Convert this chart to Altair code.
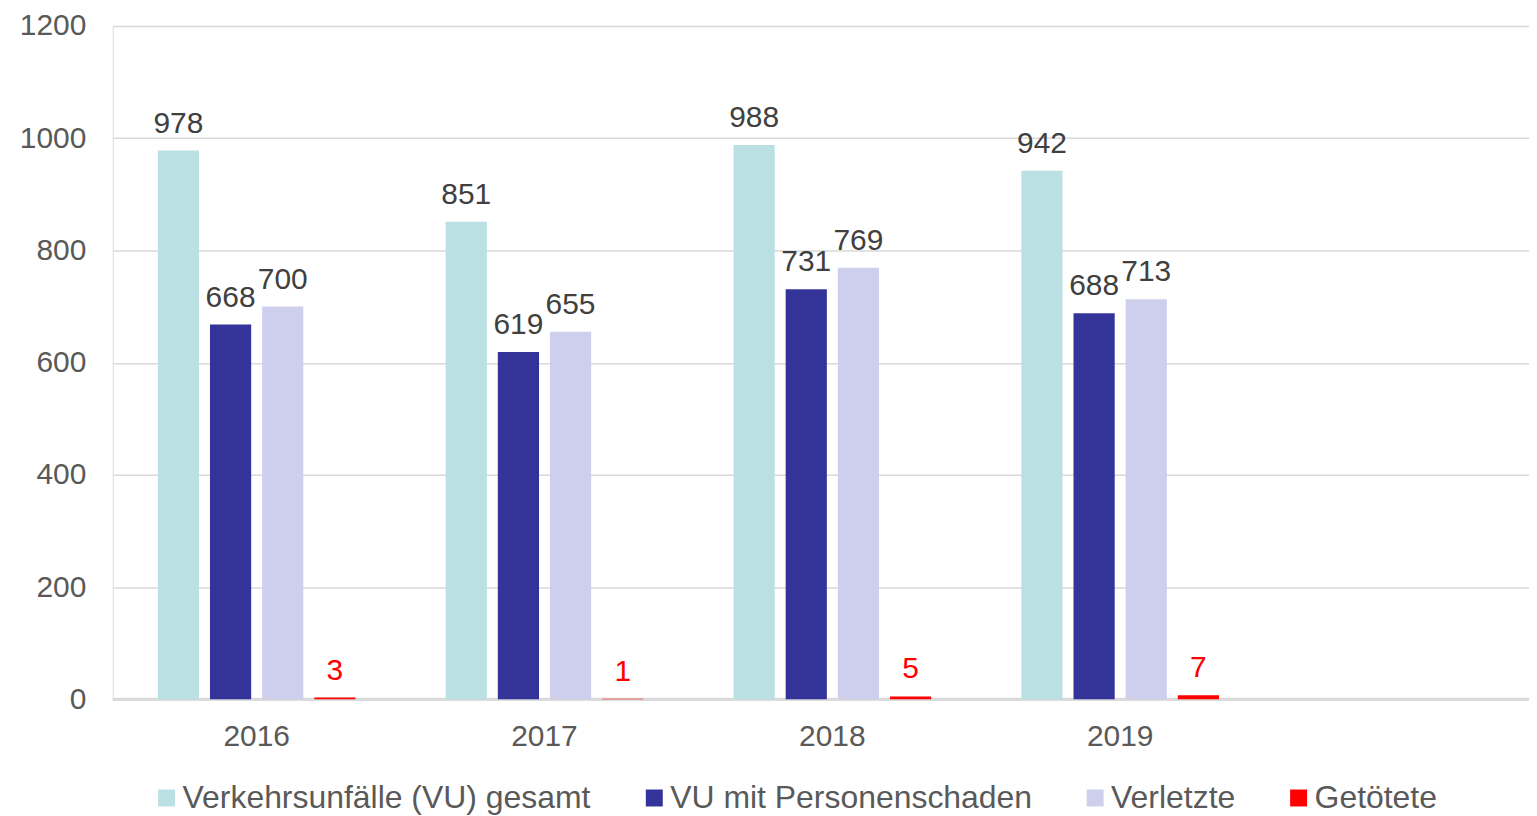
import altair as alt
import pandas as pd

years = ["2016", "2017", "2018", "2019"]
series = ["Verkehrsunfälle (VU) gesamt", "VU mit Personenschaden", "Verletzte", "Getötete"]
gesamt = [978, 851, 988, 942]
personen = [668, 619, 731, 688]
verletzte = [700, 655, 769, 713]
getoetete = [3, 1, 5, 7]
colors = ["#BBE0E3", "#333399", "#CECEED", "#FF0000"]
x_domain = years + [" "]
y_ticks = [0, 200, 400, 600, 800, 1000, 1200]

rows = []
for vals, s in zip([gesamt, personen, verletzte, getoetete], series):
    for y, v in zip(years, vals):
        rows.append({"Jahr": y, "Serie": s, "Wert": v})
df = pd.DataFrame(rows)

FONT = "Liberation Sans"

x_enc = alt.X("Jahr:N", scale=alt.Scale(domain=x_domain, paddingInner=0, paddingOuter=0,
                                        range=[0, 1443]),
              axis=alt.Axis(title=None, labelAngle=0, ticks=False, tickExtra=False,
                            labelPadding=22, labelFontSize=30, labelColor="#595959",
                            labelFont=FONT, domain=False, grid=False, gridOpacity=0))
xo_enc = alt.XOffset("Serie:N", sort=series,
                     scale=alt.Scale(domain=series, paddingInner=0.21, paddingOuter=0.865))
y_enc = alt.Y("Wert:Q", scale=alt.Scale(domain=[0, 1200], nice=False),
              axis=alt.Axis(title=None, values=y_ticks, format="d", ticks=False, domain=False,
                            domainOpacity=0, labelPadding=27, labelFontSize=30,
                            labelColor="#595959", labelFont=FONT,
                            gridColor="#D9D9D9", gridWidth=1.5))

bars = alt.Chart(df).mark_bar().encode(
    x=x_enc, xOffset=xo_enc, y=y_enc,
    color=alt.Color("Serie:N", sort=series,
                    scale=alt.Scale(domain=series, range=colors),
                    legend=alt.Legend(title=None, orient="none", direction="horizontal",
                                      columns=4, legendX=38, legendY=758,
                                      symbolType="square", symbolSize=289,
                                      symbolStrokeWidth=0, labelFontSize=32,
                                      labelFont=FONT, labelColor="#595959",
                                      labelOffset=0, labelLimit=1000,
                                      columnPadding=47)),
)

labels = alt.Chart(df).mark_text(baseline="alphabetic", dy=-18, fontSize=30, font=FONT).encode(
    x=x_enc, xOffset=xo_enc, y=y_enc,
    text=alt.Text("Wert:Q"),
    color=alt.condition(alt.datum.Serie == "Getötete", alt.value("#FF0000"), alt.value("#404040")),
)

baseline = alt.Chart(pd.DataFrame({"v": [0]})).mark_rule(color="#D9D9D9", strokeWidth=3).encode(
    y=alt.Y("v:Q"), x=alt.value(0), x2=alt.value(1443),
)

chart = alt.layer(baseline, bars, labels).properties(
    width=1420, height=675,
    autosize=alt.AutoSizeParams(type="none"),
    padding={"left": 105, "top": 17, "right": 0, "bottom": 120},
).configure_view(
    strokeWidth=0, stroke="transparent", strokeOpacity=0
).configure_axis(
    domain=False, domainOpacity=0
).configure_axisBand(
    grid=False, tickExtra=False
).configure(background="white")

chart.save("out.html", embed_options={"renderer": "svg", "actions": False})
